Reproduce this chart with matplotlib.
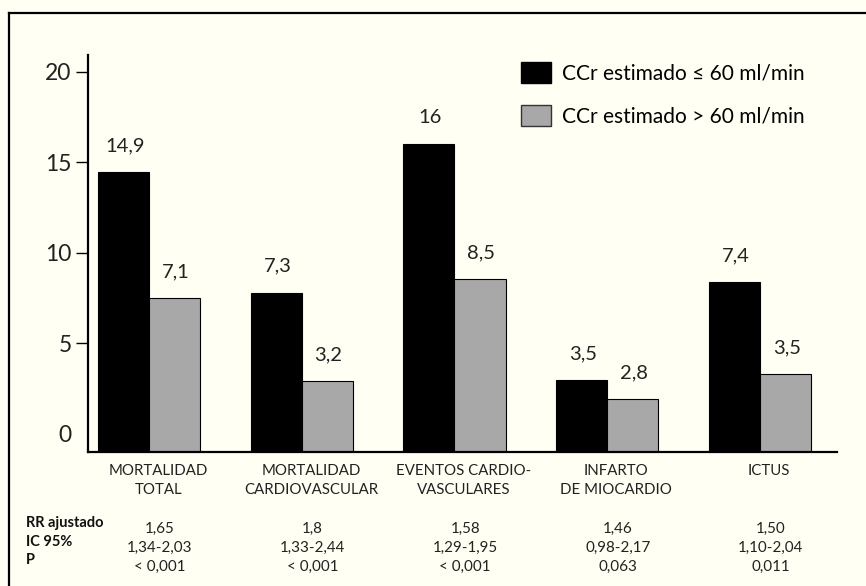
import matplotlib
matplotlib.use("Agg")
import matplotlib.pyplot as plt
import matplotlib.transforms as mtransforms
from matplotlib.lines import Line2D
from matplotlib.patches import Patch
import numpy as np

plt.rcParams["font.family"] = ["Lato", "DejaVu Sans"]

# data
categories = ["MORTALIDAD\nTOTAL", "MORTALIDAD\nCARDIOVASCULAR",
              "EVENTOS CARDIO-\nVASCULARES", "INFARTO\nDE MIOCARDIO", "ICTUS"]
low_ccr = [14.45, 7.8, 16.0, 2.95, 8.4]      # bar tops as drawn
high_ccr = [7.5, 2.9, 8.55, 1.9, 3.3]
low_labels = ["14,9", "7,3", "16", "3,5", "7,4"]
high_labels = ["7,1", "3,2", "8,5", "2,8", "3,5"]
series_names = ["CCr estimado \u2264 60 ml/min", "CCr estimado > 60 ml/min"]
rr = ["1,65", "1,8", "1,58", "1,46", "1,50"]
ic95 = ["1,34-2,03", "1,33-2,44", "1,29-1,95", "0,98-2,17", "1,10-2,04"]
pval = ["< 0,001", "< 0,001", "< 0,001", "0,063", "0,011"]
row_names = ["RR ajustado", "IC 95%", "P"]
yticks = [0, 5, 10, 15, 20]

bg = "#fffff3"
gray = "#a8a8a8"
W, H = 866, 586

fig = plt.figure(figsize=(W / 100, H / 100), dpi=100, facecolor=bg)
ax = fig.add_axes([88.3 / W, 1 - 452.3 / H, 748.4 / W, 397.3 / H])
ax.set_facecolor(bg)

x = np.arange(len(categories))
width = 0.334
ybot = -1.02
ax.bar(x - width / 2, np.array(low_ccr) - ybot, width, bottom=ybot,
       color="black", edgecolor="black", linewidth=0.8)
ax.bar(x + width / 2, np.array(high_ccr) - ybot, width, bottom=ybot,
       color=gray, edgecolor="black", linewidth=0.8)

for xi, v, lab in zip(x - width / 2, low_ccr, low_labels):
    ax.annotate(lab, (xi, v), xytext=(1, 19), textcoords="offset points",
                ha="center", va="center", fontsize=14.5, color="#222222")
for xi, v, lab in zip(x + width / 2, high_ccr, high_labels):
    ax.annotate(lab, (xi, v), xytext=(1, 19), textcoords="offset points",
                ha="center", va="center", fontsize=14.5, color="#222222")

ax.set_xlim(-0.397, 4.502)
ax.set_ylim(ybot, 20.93)
ax.set_yticks(yticks)
ax.set_yticklabels([str(t) for t in yticks], fontsize=16.5, color="#222222")
ax.yaxis.get_major_ticks()[0].tick1line.set_visible(False)
ax.tick_params(axis="y", length=9, width=1, pad=3)
ax.set_xticks([])
for s in ["top", "right"]:
    ax.spines[s].set_visible(False)
for s in ["left", "bottom"]:
    ax.spines[s].set_linewidth(1.6)

# category labels and the table below the axis
blend = mtransforms.blended_transform_factory(ax.transData, fig.transFigure)
for xi, cat in zip(x, categories):
    for k, line in enumerate(cat.split("\n")):
        ax.text(xi + 0.06, 1 - (471 + 19 * k) / H, line, transform=blend,
                ha="center", va="center", fontsize=10.8, color="#222222")
for r, row in enumerate([rr, ic95, pval]):
    for xi, val in zip(x, row):
        ax.text(xi + 0.07, 1 - (529 + 18.7 * r) / H, val, transform=blend,
                ha="center", va="center", fontsize=10.9, color="#222222")
for r, name in enumerate(row_names):
    fig.text(26 / W, 1 - (523.5 + 18.3 * r) / H, name, ha="left", va="center",
             fontsize=10.5, fontweight="bold", color="#111111")

handles = [Patch(facecolor="black", edgecolor="black"),
           Patch(facecolor=gray, edgecolor="#333333")]
fig.legend(handles, series_names, loc="upper left",
           bbox_to_anchor=(520.7 / W, 1 - 62 / H), frameon=False,
           fontsize=15, handlelength=1.45, handleheight=1.15,
           handletextpad=0.55, labelspacing=1.05, borderpad=0,
           borderaxespad=0)

# partial frame round the figure
fig.add_artist(Line2D([9 / W, 1], [1 - 12.5 / H, 1 - 12.5 / H],
                      transform=fig.transFigure, color="black", lw=1.6))
fig.add_artist(Line2D([9 / W, 9 / W], [0, 1 - 12.5 / H],
                      transform=fig.transFigure, color="black", lw=1.6))

fig.savefig("out.png", dpi=100, facecolor=bg)
